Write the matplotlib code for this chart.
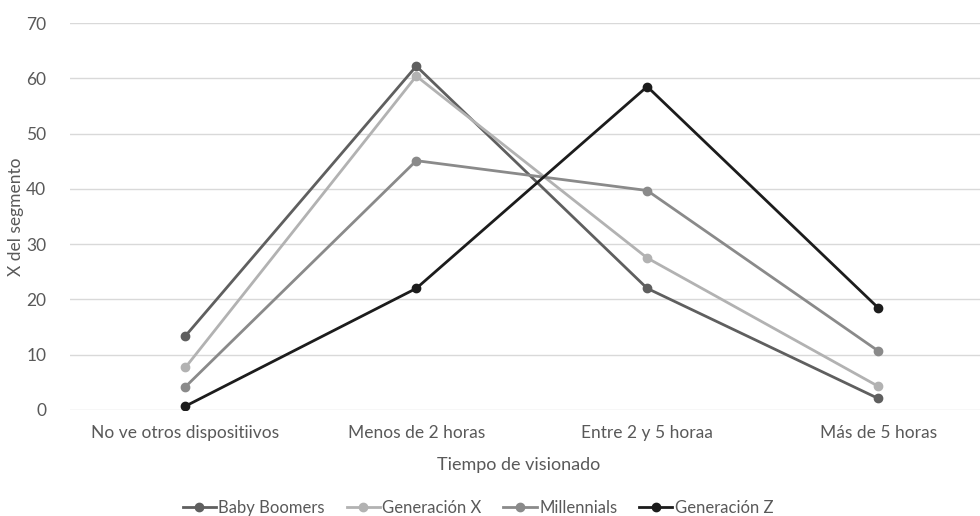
import matplotlib
matplotlib.use("Agg")
import matplotlib.pyplot as plt

plt.rcParams['font.family'] = ['Lato', 'DejaVu Sans']

categories = ["No ve otros dispositiivos", "Menos de 2 horas", "Entre 2 y 5 horaa", "Más de 5 horas"]
baby_boomers = [13.4, 62.2, 22.0, 2.1]
generacion_x = [7.7, 60.4, 27.5, 4.3]
millennials = [4.2, 45.1, 39.7, 10.7]
generacion_z = [0.7, 22.0, 58.5, 18.5]
series_names = ["Baby Boomers", "Generación X", "Millennials", "Generación Z"]
yticks = [0, 10, 20, 30, 40, 50, 60, 70]

colors = ["#5f5f5f", "#b2b2b2", "#8a8a8a", "#1c1c1c"]

fig = plt.figure(figsize=(9.8, 5.16), dpi=100)
W, H = 980, 516
left_px, right_px = 70, 993.5
top_px, bot_px = 23, 410
ax = fig.add_axes([left_px / W, 1 - bot_px / H, (right_px - left_px) / W, (bot_px - top_px) / H])

x = list(range(len(categories)))
for vals, name, c in zip([baby_boomers, generacion_x, millennials, generacion_z], series_names, colors):
    ax.plot(x, vals, color=c, lw=2.0, marker='o', ms=6, label=name, solid_joinstyle='round')

ax.set_xlim(-0.5, len(categories) - 0.5)
ax.set_ylim(0, 70)
ax.set_yticks(yticks)
ax.set_xticks(x)
ax.set_xticklabels(categories)
ax.grid(axis='y', color='#d9d9d9', lw=1)
ax.set_axisbelow(True)
for s in ax.spines.values():
    s.set_visible(False)
ax.tick_params(axis='both', length=0, labelsize=12.5, labelcolor='#595959')
ax.tick_params(axis='x', pad=11)
ax.tick_params(axis='y', pad=17)

fig.text(16 / W, 1 - 217 / H, "X del segmento", rotation=90, ha='center', va='center', fontsize=12.5, color='#595959')
fig.text(519 / W, 1 - 465 / H, "Tiempo de visionado", ha='center', va='center', fontsize=13, color='#595959')

leg = fig.legend(loc='center', bbox_to_anchor=(478 / W, 1 - 508 / H), ncol=4, frameon=False,
                 fontsize=12, handlelength=2.0, handletextpad=0.15, columnspacing=1.3,
                 labelcolor='#595959')

fig.savefig("out.png", dpi=100)
